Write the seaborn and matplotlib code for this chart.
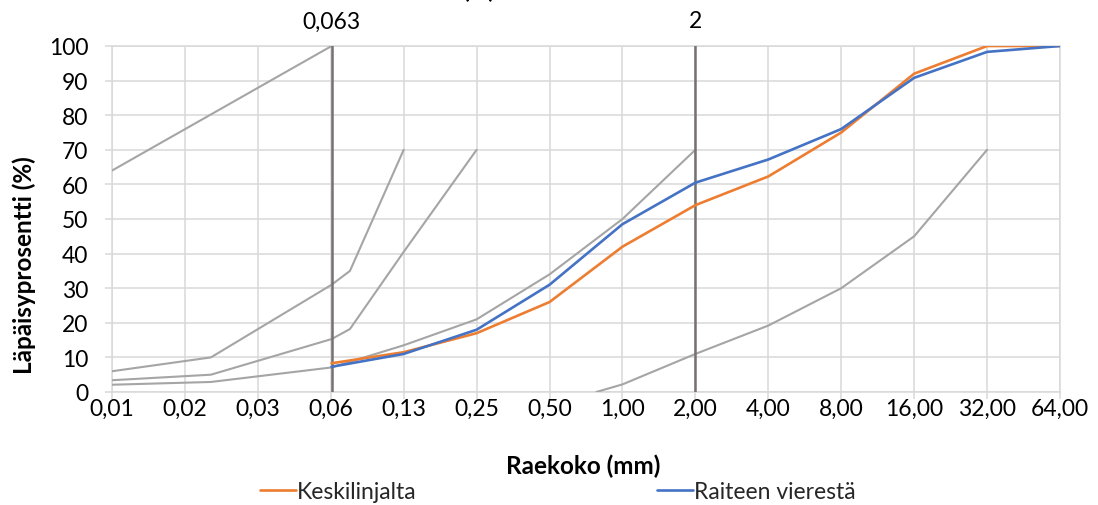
import matplotlib
matplotlib.use("Agg")
import matplotlib.pyplot as plt
import matplotlib.transforms as mtransforms
import pandas as pd
import seaborn as sns

# Sieve sizes (mm) on the log2 horizontal axis and their printed labels
sieve_sizes = [0.0078125, 0.015625, 0.03125, 0.0625, 0.125, 0.25, 0.5,
               1, 2, 4, 8, 16, 32, 64]
sieve_labels = ["0,01", "0,02", "0,03", "0,06", "0,13", "0,25", "0,50",
                "1,00", "2,00", "4,00", "8,00", "16,00", "32,00", "64,00"]
y_ticks = [0, 10, 20, 30, 40, 50, 60, 70, 80, 90, 100]

# Measured grading curves (passing %)
sample_sizes = [0.063, 0.125, 0.25, 0.5, 1, 2, 4, 8, 16, 32, 64]
keskilinjalta = [8.3, 11.5, 17, 26, 42, 54, 62.3, 75, 92, 100, 100]
raiteen_vieresta = [7.3, 11, 18, 31, 48.5, 60.5, 67.2, 76, 90.8, 98.3, 100]

# Grading envelope limit lines
limit1_x = [0.0078125, 0.063]
limit1_y = [64, 100]
limit2_x = [0.0078125, 0.02, 0.063, 0.075, 0.125]
limit2_y = [6, 10, 31, 35, 70]
limit3_x = [0.0078125, 0.02, 0.063, 0.075, 0.125, 0.25]
limit3_y = [3.4, 5, 15.3, 18.2, 40.5, 70]
limit4_x = [0.0078125, 0.02, 0.063, 0.125, 0.25, 0.5, 1, 2]
limit4_y = [2.1, 2.9, 7.1, 13.5, 21, 34, 50, 70]
limit5_x = [0.78, 1, 2, 4, 8, 16, 32]
limit5_y = [0, 2.2, 11, 19.2, 30, 45, 70]

# Reference sieve sizes marked with vertical lines
ref_sizes = [0.063, 2]
ref_labels = ["0,063", "2"]

ORANGE = "#ED7D31"
BLUE = "#4472C4"
LIMIT_GREY = "#A5A5A5"
REF_GREY = "#767171"
GRID = "#D9D9D9"
TEXT = "#000000"

TICK_FS = 16.5
TITLE_FS = 17.5

sns.set_theme(style="white")
plt.rcParams["font.family"] = ["Lato", "DejaVu Sans"]

fig = plt.figure(figsize=(10.98, 5.06), dpi=100)
ax = fig.add_axes([112 / 1098, 1 - 393 / 506, (1060 - 112) / 1098, (393 - 47) / 506])

limits = [(limit1_x, limit1_y), (limit2_x, limit2_y), (limit3_x, limit3_y),
          (limit4_x, limit4_y), (limit5_x, limit5_y)]
for lx, ly in limits:
    sns.lineplot(data=pd.DataFrame({"x": lx, "y": ly}), x="x", y="y", ax=ax,
                 color=LIMIT_GREY, linewidth=1.5, sort=False, estimator=None,
                 zorder=3)

for size in ref_sizes:
    ax.axvline(size, ymin=0, ymax=1, color=REF_GREY, linewidth=1.8, zorder=4)

curves = pd.DataFrame({"x": sample_sizes * 2,
                       "y": keskilinjalta + raiteen_vieresta,
                       "series": ["Keskilinjalta"] * len(sample_sizes)
                                 + ["Raiteen vierestä"] * len(sample_sizes)})
sns.lineplot(data=curves, x="x", y="y", hue="series",
             palette={"Keskilinjalta": ORANGE, "Raiteen vierestä": BLUE},
             linewidth=1.9, ax=ax, estimator=None, sort=False, zorder=5)

ax.set_xscale("log", base=2)
ax.set_xlim(sieve_sizes[0], sieve_sizes[-1])
ax.set_ylim(0, 100)
ax.set_xticks(sieve_sizes)
ax.set_xticklabels(sieve_labels)
ax.minorticks_off()
ax.set_yticks(y_ticks)
ax.set_yticklabels([str(v) for v in y_ticks])

ax.grid(True, color=GRID, linewidth=1.1, zorder=0)
ax.set_axisbelow(True)
for side in ["left", "bottom", "top", "right"]:
    ax.spines[side].set_color(GRID)
    ax.spines[side].set_linewidth(1.1)
    ax.spines[side].set_zorder(1)

ax.tick_params(axis="x", which="major", direction="out", length=5, width=1.1,
               color=GRID, labelsize=TICK_FS, labelcolor=TEXT, pad=-0.5, bottom=True)
ax.tick_params(axis="y", which="major", direction="out", length=5, width=1.1,
               color=GRID, labelsize=TICK_FS, labelcolor=TEXT, pad=12, left=True)

ax.set_xlabel("")
ax.set_ylabel("")
fig.text(583 / 1098, 1 - 466 / 506, "Raekoko (mm)", ha="center", va="center",
         fontsize=TITLE_FS, fontweight="bold", color=TEXT)
fig.text(24 / 1098, 1 - 265 / 506, "Läpäisyprosentti (%)", ha="center",
         va="center", rotation=90, fontsize=TITLE_FS, fontweight="bold",
         color=TEXT)

# Labels of the reference sizes above the plot area
top = mtransforms.blended_transform_factory(ax.transData, fig.transFigure)
for size, lab in zip(ref_sizes, ref_labels):
    ax.text(size, 1 - 22 / 506, lab, transform=top, ha="center", va="center",
            fontsize=TICK_FS, color=TEXT)

# Secondary axis title, running off the top edge
fig.text(479 / 1098, 1.004, "(%)", ha="center", va="baseline",
         fontsize=TITLE_FS, fontweight="bold", color=TEXT)

handles, labels = ax.get_legend_handles_labels()
ax.legend(handles, labels, loc="center", bbox_to_anchor=(558 / 1098, 13 / 506),
          bbox_transform=fig.transFigure, ncol=2, frameon=False,
          fontsize=TICK_FS, handlelength=1.55, handletextpad=0.05,
          columnspacing=10.5, borderaxespad=0, borderpad=0)

fig.savefig("out.png", dpi=100, facecolor="white")
